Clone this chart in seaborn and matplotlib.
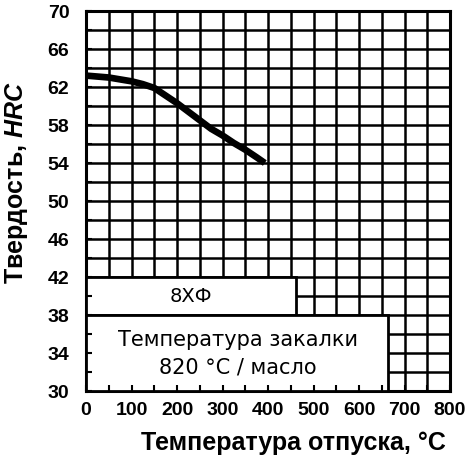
import matplotlib
matplotlib.use("Agg")
import matplotlib.pyplot as plt
import seaborn as sns
import pandas as pd
from matplotlib.patches import Rectangle
from matplotlib.ticker import MultipleLocator, NullFormatter

# ---- data ----
temperature = [0, 50, 100, 125, 150, 175, 200, 225, 250, 275, 300, 325, 350, 375, 393]
hardness = [63.2, 63.0, 62.6, 62.3, 61.9, 61.1, 60.3, 59.4, 58.5, 57.6, 56.9, 56.1, 55.4, 54.6, 54.0]
x_ticks = [0, 100, 200, 300, 400, 500, 600, 700, 800]
y_ticks = [30, 34, 38, 42, 46, 50, 54, 58, 62, 66, 70]
steel_label = "8ХФ"
quench_label = "Температура закалки\n820 °C / масло"
x_label = "Температура отпуска, °C"
y_label = "Твердость, $\\mathit{HRC}$"

sns.set_theme(style="white")
plt.rcParams["font.family"] = ["Liberation Sans", "DejaVu Sans"]
plt.rcParams["mathtext.fontset"] = "custom"
plt.rcParams["mathtext.it"] = "Liberation Sans:italic:bold"
plt.rcParams["mathtext.rm"] = "Liberation Sans"
plt.rcParams["mathtext.bf"] = "Liberation Sans:bold"
plt.rcParams["text.color"] = "black"
plt.rcParams["axes.labelcolor"] = "black"
plt.rcParams["xtick.color"] = "black"
plt.rcParams["ytick.color"] = "black"

fig = plt.figure(figsize=(4.73, 4.64), dpi=100)
ax = fig.add_axes([86 / 473, 72 / 464, 364 / 473, 380 / 464])

df = pd.DataFrame({"t": temperature, "h": hardness})
sns.lineplot(data=df, x="t", y="h", ax=ax, color="black", linewidth=4.8,
             solid_capstyle="butt", solid_joinstyle="round", zorder=4)

ax.set_xlim(0, 800)
ax.set_ylim(30, 70)
ax.set_xticks(x_ticks)
ax.set_yticks(y_ticks)
ax.xaxis.set_minor_locator(MultipleLocator(50))
ax.yaxis.set_minor_locator(MultipleLocator(2))
ax.grid(True, which="both", color="black", linewidth=1.8)
ax.set_axisbelow(True)
ax.tick_params(which="both", length=0)
ax.tick_params(axis="x", pad=7, labelsize=14, labelcolor="black")
ax.tick_params(axis="y", pad=12, labelsize=14, labelcolor="black")
for lab in ax.get_xticklabels() + ax.get_yticklabels():
    lab.set_fontweight("bold")
for s in ax.spines.values():
    s.set_color("black")
    s.set_linewidth(2.2)

# boxes covering the grid
ax.add_patch(Rectangle((0, 38), 462, 4, facecolor="white", edgecolor="black",
                       linewidth=2.0, zorder=3))
ax.add_patch(Rectangle((0, 30), 664, 8, facecolor="white", edgecolor="black",
                       linewidth=2.0, zorder=3))
ax.text(231, 40, steel_label, ha="center", va="center", fontsize=14,
        family="DejaVu Sans", color="black", zorder=5)
ax.text(334, 34, quench_label, ha="center", va="center", fontsize=15,
        family="DejaVu Sans", color="black", linespacing=1.45, zorder=5)

ax.set_xlabel(x_label, fontsize=18, fontweight="bold", color="black")
ax.set_ylabel(y_label, fontsize=18, fontweight="bold", color="black")
ax.xaxis.set_label_coords(0.571, -0.134)
ax.xaxis.label.set_va("center")
ax.yaxis.set_label_coords(-0.19, 0.55)
ax.yaxis.label.set_va("center")

# overlay axes for small inward tick stubs along the frame
ax2 = fig.add_axes(ax.get_position(), frameon=False)
ax2.set_xlim(0, 800)
ax2.set_ylim(30, 70)
ax2.xaxis.set_major_locator(MultipleLocator(50))
ax2.yaxis.set_major_locator(MultipleLocator(2))
ax2.xaxis.set_major_formatter(NullFormatter())
ax2.yaxis.set_major_formatter(NullFormatter())
ax2.tick_params(direction="in", length=4, width=1.5, color="black",
                bottom=True, left=True, top=False, right=False)
ax2.patch.set_alpha(0)

fig.savefig("out.png", dpi=100, facecolor="white")
